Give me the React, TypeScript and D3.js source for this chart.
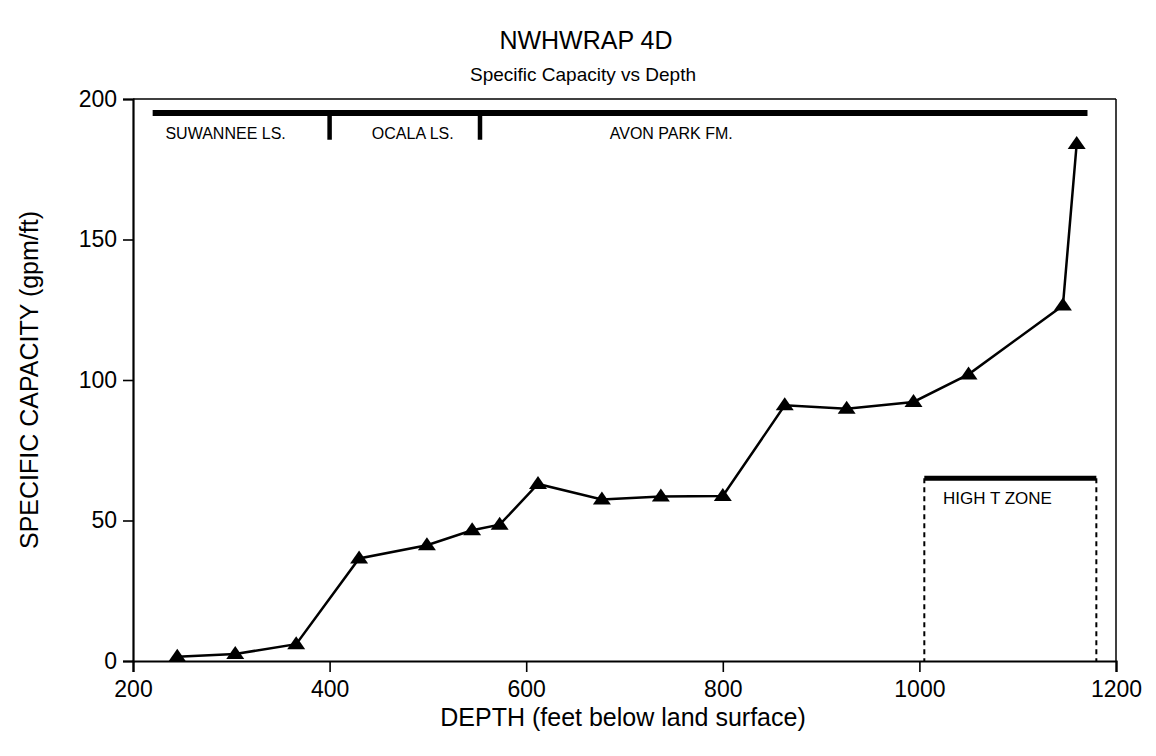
import { useEffect, useRef } from "react";
import * as d3 from "d3";

// Data
const depth = [245, 304, 366, 430, 499, 545, 573, 612, 677, 737, 800, 863, 926, 994, 1050, 1146, 1160];
const capacity = [1.5, 2.5, 6, 36.5, 41.2, 46.5, 48.5, 63, 57.5, 58.5, 58.7, 91, 89.8, 92.2, 102, 126.5, 184];

const formationNames = ["SUWANNEE LS.", "OCALA LS.", "AVON PARK FM."];
const formationLabelX = [233, 443, 685];
const formationBreaks = [400, 553];
const formationSpan = [220, 1171];
const formationY = 195;

const highTSpan = [1005, 1180];
const highTY = 65;

const xTicks = [200, 400, 600, 800, 1000, 1200];
const yTicks = [0, 50, 100, 150, 200];

const W = 1156;
const H = 756;
const MARGIN = { top: 99, right: 40, bottom: 95, left: 133 };

export default function App() {
  const svgRef = useRef<SVGSVGElement | null>(null);

  useEffect(() => {
    const svgEl = svgRef.current;
    if (!svgEl) return;
    const svg = d3.select(svgEl);
    svg.selectAll("*").remove();

    const font = "'Liberation Sans', Arial, sans-serif";

    const x = d3.scaleLinear().domain([200, 1200]).range([MARGIN.left, W - MARGIN.right]);
    const y = d3.scaleLinear().domain([0, 200]).range([H - MARGIN.bottom, MARGIN.top]);

    const x0 = x(200), x1 = x(1200), yBase = y(0), yTop = y(200);

    // frame
    svg.append("line").attr("x1", x0).attr("x2", x1).attr("y1", yTop).attr("y2", yTop)
      .attr("stroke", "#000").attr("stroke-width", 1.5);
    svg.append("line").attr("x1", x1).attr("x2", x1).attr("y1", yTop).attr("y2", yBase)
      .attr("stroke", "#000").attr("stroke-width", 1.5);

    // x axis
    const xAxis = svg.append("g").attr("transform", `translate(0,${yBase})`)
      .call(d3.axisBottom(x).tickValues(d3.range(200, 1201, 40)).tickSize(6).tickFormat(() => ""));
    xAxis.call(d3.axisBottom(x).tickValues(xTicks).tickSize(11).tickFormat(d3.format("d")).tickPadding(9));
    xAxis.selectAll("path").attr("stroke-width", 2.2);
    xAxis.selectAll("line").attr("stroke-width", 1.6);
    xAxis.selectAll("text").attr("font-family", font).attr("font-size", 23).attr("fill", "#000");

    // y axis
    const yAxis = svg.append("g").attr("transform", `translate(${x0},0)`)
      .call(d3.axisLeft(y).tickValues(d3.range(0, 201, 10)).tickSize(5).tickFormat(() => ""));
    yAxis.call(d3.axisLeft(y).tickValues(yTicks).tickSize(10).tickFormat(d3.format("d")).tickPadding(6));
    yAxis.selectAll("path").attr("stroke-width", 2.2);
    yAxis.selectAll("line").attr("stroke-width", 1.6);
    yAxis.selectAll("text").attr("font-family", font).attr("font-size", 23).attr("fill", "#000");

    // titles
    svg.append("text").attr("x", 586).attr("y", 49).attr("text-anchor", "middle")
      .attr("font-family", font).attr("font-size", 25).text("NWHWRAP 4D");
    svg.append("text").attr("x", 583).attr("y", 81).attr("text-anchor", "middle")
      .attr("font-family", font).attr("font-size", 19).text("Specific Capacity vs Depth");
    svg.append("text").attr("x", 623).attr("y", 726).attr("text-anchor", "middle")
      .attr("font-family", font).attr("font-size", 25).text("DEPTH (feet below land surface)");
    svg.append("text").attr("transform", `translate(38,${(yBase + yTop) / 2}) rotate(-90)`)
      .attr("text-anchor", "middle").attr("font-family", font).attr("font-size", 25)
      .text("SPECIFIC CAPACITY (gpm/ft)");

    // formation bar
    svg.append("line").attr("x1", x(formationSpan[0])).attr("x2", x(formationSpan[1]))
      .attr("y1", y(formationY)).attr("y2", y(formationY)).attr("stroke", "#000").attr("stroke-width", 6);
    formationBreaks.forEach((b) => {
      svg.append("line").attr("x1", x(b)).attr("x2", x(b))
        .attr("y1", y(formationY)).attr("y2", y(185.5)).attr("stroke", "#000").attr("stroke-width", 4.5);
    });
    formationNames.forEach((name, i) => {
      svg.append("text").attr("x", x(formationLabelX[i])).attr("y", y(185.7))
        .attr("font-family", font).attr("font-size", 16).text(name);
    });

    // high T zone
    svg.append("line").attr("x1", x(highTSpan[0])).attr("x2", x(highTSpan[1]))
      .attr("y1", y(highTY)).attr("y2", y(highTY)).attr("stroke", "#000").attr("stroke-width", 5);
    highTSpan.forEach((v) => {
      svg.append("line").attr("x1", x(v)).attr("x2", x(v)).attr("y1", y(highTY)).attr("y2", yBase)
        .attr("stroke", "#000").attr("stroke-width", 2).attr("stroke-dasharray", "5,4");
    });
    svg.append("text").attr("x", x(1024)).attr("y", y(56))
      .attr("font-family", font).attr("font-size", 17).text("HIGH T ZONE");

    // data line
    const pts = depth.map((d, i) => [d, capacity[i]] as [number, number]);
    svg.append("path").datum(pts)
      .attr("d", d3.line<[number, number]>().x((d) => x(d[0])).y((d) => y(d[1])))
      .attr("fill", "none").attr("stroke", "#000").attr("stroke-width", 2.5);

    // triangle markers
    svg.selectAll("path.mark").data(pts).enter().append("path").attr("class", "mark")
      .attr("transform", (d) => `translate(${x(d[0])},${y(d[1])})`)
      .attr("d", "M0,-8 L9,5 L-9,5 Z").attr("fill", "#000");
  }, []);

  return (
    <svg ref={svgRef} width={W} height={H}
      style={{ position: "absolute", left: 0, top: 0, background: "#fff" }} />
  );
}
